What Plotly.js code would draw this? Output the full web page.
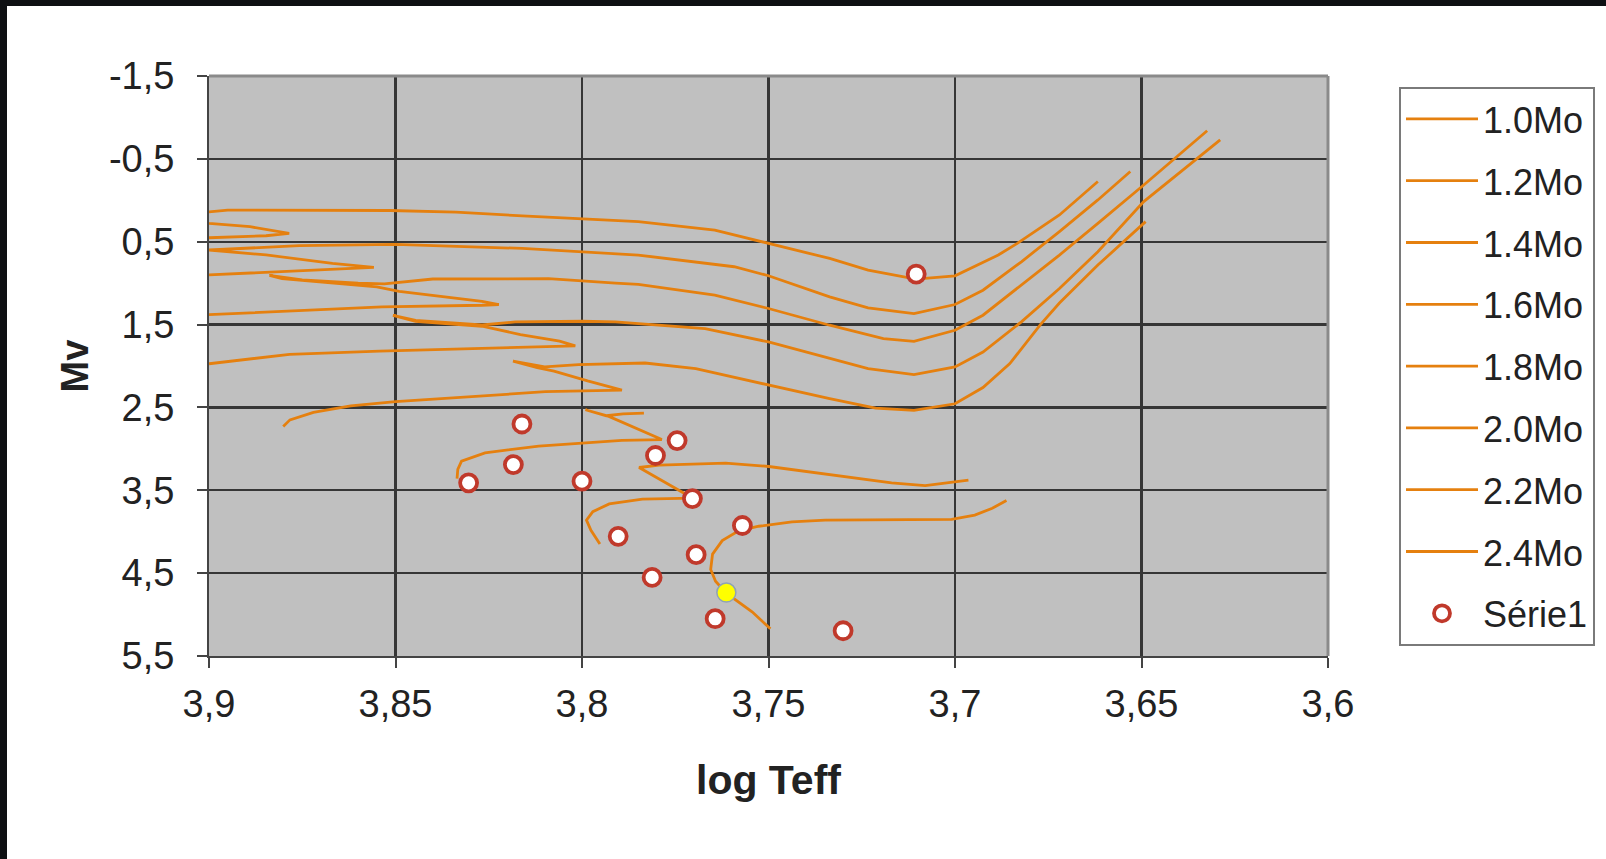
<!DOCTYPE html>
<html>
<head>
<meta charset="utf-8">
<script src="https://cdn.plot.ly/plotly-3.0.1.min.js"></script>
<style>
  html, body { margin:0; padding:0; }
  body { width:1606px; height:859px; background:#0e1013; overflow:hidden; position:relative; }
  #chart { position:absolute; left:7px; top:6px; width:1599px; height:853px; background:#ffffff; }
</style>
</head>
<body>
<div id="chart"></div>
<script>
// ---------- DATA ----------
const trackNames = ['1.0Mo','1.2Mo','1.4Mo','1.6Mo','1.8Mo','2.0Mo','2.2Mo','2.4Mo'];

const m10x = [3.7495,3.7544,3.7613,3.7642,3.7655,3.765,3.7624,3.758,3.7526,3.7437,3.7348,3.717,3.7009,3.6947,3.690,3.6862];
const m10y = [5.172,4.967,4.742,4.598,4.455,4.27,4.107,3.99,3.934,3.881,3.86,3.86,3.852,3.80,3.717,3.623];

const m12x = [3.7952,3.7976,3.7988,3.7971,3.7927,3.7838,3.7704,3.7776,3.7847,3.7793,3.7615,3.7499,3.7348,3.717,3.708,3.6964];
const m12y = [4.148,3.984,3.86,3.758,3.664,3.607,3.594,3.41,3.225,3.197,3.172,3.213,3.307,3.41,3.443,3.377];

const m14x = [3.8335,3.8333,3.8323,3.826,3.8116,3.80,3.7893,3.7786,3.7848,3.7928,3.7991,3.7935,3.789,3.7834];
const m14y = [3.36,3.248,3.148,3.048,2.966,2.926,2.898,2.888,2.765,2.608,2.528,2.60,2.578,2.568];

const m16x = [3.8801,3.8783,3.872,3.862,3.85,3.8276,3.8098,3.7893,3.7985,3.8075,3.812,3.8185,3.810,3.8009,3.7831,3.7695,3.75,3.7336,3.7213,3.711,3.70,3.6925,3.6853,3.6771,3.672,3.6617,3.6489];
const m16y = [2.73,2.65,2.56,2.48,2.43,2.36,2.31,2.29,2.18,2.062,2.02,1.94,2.01,1.984,1.964,2.032,2.234,2.395,2.508,2.536,2.456,2.26,1.97,1.50,1.24,0.782,0.258];

const m18x = [3.9,3.8784,3.8543,3.8365,3.8187,3.8018,3.806,3.8165,3.8268,3.8446,3.8507,3.8446,3.8268,3.8179,3.80,3.791,3.7849,3.767,3.75,3.7336,3.7233,3.711,3.70,3.6925,3.6822,3.672,3.6617,3.6494,3.6289];
const m18y = [1.973,1.859,1.82,1.80,1.782,1.757,1.70,1.62,1.52,1.46,1.39,1.45,1.505,1.468,1.46,1.468,1.488,1.55,1.71,1.911,2.032,2.105,2.012,1.831,1.468,1.065,0.621,0.016,-0.73];

const m20x = [3.9,3.8759,3.8536,3.8268,3.8223,3.8268,3.849,3.855,3.867,3.8804,3.8838,3.875,3.86,3.853,3.84,3.809,3.791,3.7849,3.7644,3.75,3.7336,3.7192,3.711,3.70,3.6925,3.6822,3.672,3.6617,3.6494,3.6324];
const m20y = [1.38,1.327,1.287,1.267,1.258,1.22,1.10,1.046,1.0,0.946,0.906,0.96,1.0,1.01,0.95,0.946,1.0,1.016,1.145,1.306,1.508,1.669,1.702,1.569,1.387,1.024,0.661,0.278,-0.185,-0.839];

const m22x = [3.9,3.8758,3.8558,3.8669,3.8847,3.9,3.8758,3.85,3.8331,3.816,3.7849,3.7592,3.75,3.7336,3.7233,3.711,3.70,3.6925,3.6822,3.672,3.6617,3.653];
const m22y = [0.90,0.853,0.81,0.761,0.66,0.60,0.548,0.532,0.56,0.581,0.661,0.802,0.911,1.165,1.298,1.367,1.258,1.085,0.742,0.379,-0.004,-0.347];

const m24x = [3.9,3.8847,3.8785,3.889,3.9,3.91,3.9,3.895,3.8516,3.8338,3.816,3.7849,3.7644,3.75,3.7336,3.7233,3.7105,3.70,3.6884,3.6833,3.672,3.6617];
const m24y = [0.452,0.428,0.40,0.319,0.279,0.20,0.139,0.118,0.123,0.143,0.188,0.258,0.359,0.520,0.702,0.843,0.952,0.911,0.661,0.520,0.177,-0.226];

const serieName = 'Série1';
const serieX = [3.7104,3.8161,3.8184,3.8304,3.80,3.7803,3.7745,3.7704,3.7903,3.757,3.7694,3.7812,3.7643,3.730];
const serieY = [0.89,2.70,3.19,3.41,3.39,3.08,2.90,3.60,4.056,3.925,4.277,4.552,5.05,5.195];

const sunX = [3.7613];
const sunY = [4.735];

const xTickVals = [3.9,3.85,3.8,3.75,3.7,3.65,3.6];
const xTickText = ['3,9','3,85','3,8','3,75','3,7','3,65','3,6'];
const yTickVals = [-1.5,-0.5,0.5,1.5,2.5,3.5,4.5,5.5];
const yTickText = ['-1,5','-0,5','0,5','1,5','2,5','3,5','4,5','5,5'];

// ---------- TRACES ----------
const trackX = [m10x,m12x,m14x,m16x,m18x,m20x,m22x,m24x];
const trackY = [m10y,m12y,m14y,m16y,m18y,m20y,m22y,m24y];
const orange = '#e5800f';
const FONT = 'Liberation Sans, Arial, Helvetica, sans-serif';

const traces = trackNames.map((name, i) => ({
  type: 'scatter', mode: 'lines', name: name, legendgroup: name,
  x: trackX[i], y: trackY[i],
  line: {color: orange, width: 2.8},
  hoverinfo: 'skip'
}));

traces.push({
  type: 'scatter', mode: 'markers', name: serieName, legendgroup: serieName,
  x: serieX, y: serieY,
  marker: {symbol: 'circle', size: 17, color: '#ffffff', line: {color: '#c0392b', width: 3.8}}
});

traces.push({
  type: 'scatter', mode: 'markers', name: 'Soleil', showlegend: false, legendgroup: 'sun',
  x: sunX, y: sunY,
  marker: {symbol: 'circle', size: 19, color: '#ffff00', line: {color: '#8fa3b5', width: 1.5}}
});

const layout = {
  width: 1599, height: 853,
  margin: {l: 202, r: 277, t: 70, b: 203, pad: 0},
  paper_bgcolor: '#ffffff',
  plot_bgcolor: '#c0c0c0',
  font: {family: FONT, color: '#222222'},
  showlegend: true,
  xaxis: {
    range: [3.9, 3.6], autorange: false,
    tickmode: 'array', tickvals: xTickVals, ticktext: xTickText,
    ticks: 'outside', ticklen: 10, tickwidth: 2, tickcolor: '#444444',
    ticklabelstandoff: 3,
    tickfont: {size: 38, color: '#222222', family: FONT},
    showgrid: true, gridcolor: '#363636', gridwidth: 2.2,
    showline: true, linecolor: '#444444', linewidth: 2,
    zeroline: false,
    title: {text: 'log Teff', font: {size: 41, color: '#222222', family: FONT, weight: 'bold'}, standoff: 42}
  },
  yaxis: {
    range: [5.5, -1.5], autorange: false,
    tickmode: 'array', tickvals: yTickVals, ticktext: yTickText,
    ticks: 'outside', ticklen: 10, tickwidth: 2, tickcolor: '#444444',
    ticklabelstandoff: 15,
    tickfont: {size: 38, color: '#222222', family: FONT},
    showgrid: true, gridcolor: '#363636', gridwidth: 2.2,
    showline: true, linecolor: '#444444', linewidth: 2,
    zeroline: false,
    title: {text: 'Mv', font: {size: 38, color: '#222222', family: FONT, weight: 'bold'}, standoff: 9}
  },
  legend: {
    x: 1.0625, y: 0.981, xanchor: 'left', yanchor: 'top',
    bgcolor: '#ffffff', bordercolor: '#7a7a7a', borderwidth: 2,
    font: {size: 36, color: '#222222', family: FONT},
    itemwidth: 72, tracegroupgap: 12, traceorder: 'grouped'
  },
  shapes: [
    {type: 'line', xref: 'paper', yref: 'paper', x0: 0, x1: 1, y0: 1, y1: 1, line: {color: '#8a8a8a', width: 3}, layer: 'above'},
    {type: 'line', xref: 'paper', yref: 'paper', x0: 1, x1: 1, y0: 0, y1: 1, line: {color: '#8a8a8a', width: 3}, layer: 'above'}
  ]
};

Plotly.newPlot('chart', traces, layout, {displayModeBar: false, staticPlot: true});
</script>
</body>
</html>
